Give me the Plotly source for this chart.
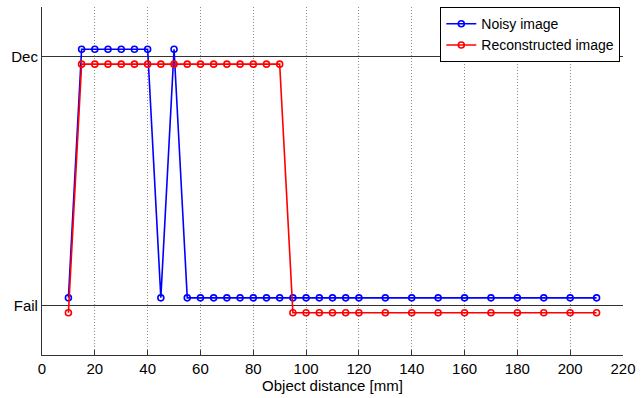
import plotly.graph_objects as go

# Object distances [mm]
distance = [10, 15, 20, 25, 30, 35, 40, 45, 50, 55, 60, 65, 70, 75, 80, 85, 90,
            95, 100, 105, 110, 115, 120, 130, 140, 150, 160, 170, 180, 190, 200, 210]

# Decision per distance: 1 = Dec, 0 = Fail
noisy = [0, 1, 1, 1, 1, 1, 1, 0, 1, 0, 0, 0, 0, 0, 0, 0, 0,
         0, 0, 0, 0, 0, 0, 0, 0, 0, 0, 0, 0, 0, 0, 0]
reconstructed = [0, 1, 1, 1, 1, 1, 1, 1, 1, 1, 1, 1, 1, 1, 1, 1, 1,
                 0, 0, 0, 0, 0, 0, 0, 0, 0, 0, 0, 0, 0, 0, 0]

# Small vertical separation so overlapping series stay visible
noisy_shift = 0.03
recon_shift = -0.03

level_vals = [0, 1]
level_text = ["Fail", "Dec"]
x_ticks = list(range(0, 221, 20))

family = "Liberation Sans, Arial, Helvetica, sans-serif"
font = dict(family=family, size=15, color="black")
legend_font = dict(family=family, size=14, color="black")

fig = go.Figure()
fig.add_trace(go.Scatter(
    x=distance, y=[v + noisy_shift for v in noisy], name="Noisy image",
    mode="lines+markers", line=dict(color="#0000ff", width=1.6),
    marker=dict(symbol="circle-open", size=6, color="#0000ff", line=dict(width=1.6)),
))
fig.add_trace(go.Scatter(
    x=distance, y=[v + recon_shift for v in reconstructed], name="Reconstructed image",
    mode="lines+markers", line=dict(color="#ff0000", width=1.6),
    marker=dict(symbol="circle-open", size=6, color="#ff0000", line=dict(width=1.6)),
))

fig.update_layout(
    width=643, height=398,
    margin=dict(l=42, r=14, t=7, b=43),
    paper_bgcolor="white", plot_bgcolor="white",
    font=font,
    showlegend=True,
    legend=dict(x=0.995, y=1.0, xanchor="right", yanchor="top",
                bgcolor="white", bordercolor="black", borderwidth=1.2,
                font=legend_font, tracegroupgap=0, itemwidth=30),
    xaxis=dict(
        range=[0, 220], tickvals=x_ticks, ticktext=[str(t) for t in x_ticks],
        ticks="inside", ticklen=5, tickcolor="#333333",
        showline=True, linecolor="#333333", linewidth=1.2,
        showgrid=True, gridcolor="#8c8c8c", griddash="1px,2px", gridwidth=1,
        zeroline=False,
        title=dict(text="Object distance [mm]", standoff=1, font=font),
    ),
    yaxis=dict(
        range=[-0.2, 1.2], tickvals=level_vals, ticktext=level_text,
        ticks="inside", ticklen=5, tickcolor="#333333",
        showline=True, linecolor="#333333", linewidth=1.2,
        showgrid=True, gridcolor="#333333", gridwidth=1.4,
        zeroline=False,
    ),
)

fig.write_html("out.html")
